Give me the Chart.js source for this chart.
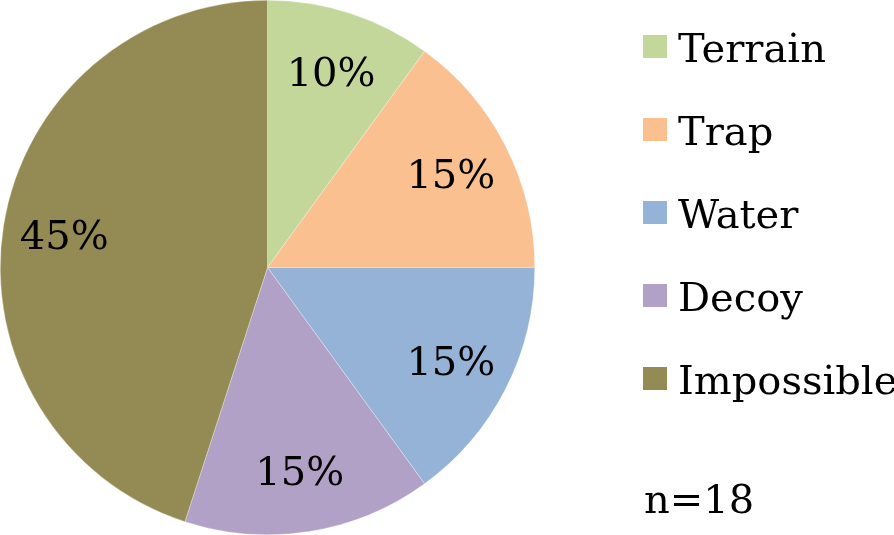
<!DOCTYPE html>
<html>
<head>
<meta charset="utf-8">
<script src="https://cdn.jsdelivr.net/npm/chart.js@4/dist/chart.umd.min.js"></script>
<style>
html,body{margin:0;padding:0;background:#fff;}
#wrap{width:894px;height:535px;position:relative;}
</style>
</head>
<body>
<div id="wrap"><canvas id="c" width="894" height="535"></canvas></div>
<script>
const categories = ["Terrain", "Trap", "Water", "Decoy", "Impossible"];
const values = [10, 15, 15, 15, 45];
const sampleNote = "n=18";

const sliceColors = ["#C4D79B", "#FAC090", "#95B3D7", "#B2A1C7", "#948A54"];
const FONT = '40px "DejaVu Serif"';

const labelPlugin = {
  id: 'sliceLabels',
  afterDatasetsDraw(chart) {
    const ctx = chart.ctx;
    const meta = chart.getDatasetMeta(0);
    const total = values.reduce((a, b) => a + b, 0);
    ctx.save();
    ctx.font = FONT;
    ctx.fillStyle = '#000';
    ctx.textAlign = 'center';
    ctx.textBaseline = 'alphabetic';
    meta.data.forEach((arc, i) => {
      const p = arc.getProps(['x', 'y', 'startAngle', 'endAngle', 'outerRadius'], true);
      const mid = (p.startAngle + p.endAngle) / 2;
      const r = p.outerRadius * 0.77;
      const x = p.x + Math.cos(mid) * r;
      const y = p.y + Math.sin(mid) * r;
      ctx.fillText(Math.round(values[i] / total * 100) + '%', x, y + 14);
    });
    ctx.restore();
  }
};

const legendPlugin = {
  id: 'sideLegend',
  afterDraw(chart) {
    const ctx = chart.ctx;
    ctx.save();
    ctx.font = FONT;
    ctx.textAlign = 'left';
    ctx.textBaseline = 'alphabetic';
    const bx = 643, tx = 678, y0 = 62, step = 83;
    chart.data.labels.forEach((lab, i) => {
      const base = y0 + i * step;
      ctx.fillStyle = chart.data.datasets[0].backgroundColor[i];
      ctx.fillRect(bx, base - 27, 24, 23);
      ctx.fillStyle = '#000';
      ctx.fillText(lab, tx, base);
    });
    ctx.fillText(sampleNote, 644, 513);
    ctx.restore();
  }
};

new Chart(document.getElementById('c'), {
  type: 'pie',
  data: {
    labels: categories,
    datasets: [{
      data: values,
      backgroundColor: sliceColors,
      borderColor: 'rgba(255,255,255,0.6)',
      borderWidth: 0.5
    }]
  },
  options: {
    responsive: false,
    animation: false,
    layout: { padding: { left: 0, top: 0, bottom: 0, right: 359 } },
    plugins: {
      legend: { display: false },
      tooltip: { enabled: false }
    }
  },
  plugins: [labelPlugin, legendPlugin]
});
</script>
</body>
</html>
